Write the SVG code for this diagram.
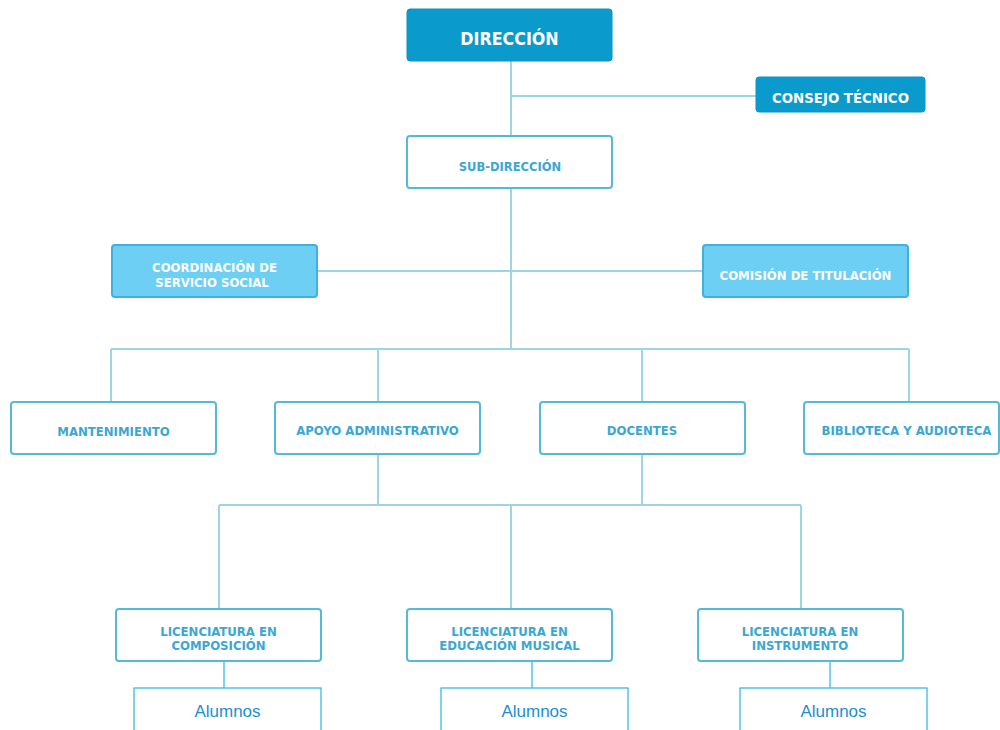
<svg xmlns="http://www.w3.org/2000/svg" width="1000" height="730" viewBox="0 0 1000 730">
<style>
.dark{fill:#0a9bcc;stroke:#0a93c4;stroke-width:1}
.light{fill:#6ccff3;stroke:#3fb2dc;stroke-width:2}
.white{fill:#ffffff;stroke:#55b9dc;stroke-width:2}
.alum{fill:#ffffff;stroke:#2ab3ea;stroke-width:1.2}
.t{font-family:"DejaVu Sans Condensed","DejaVu Sans",sans-serif;font-weight:bold;text-anchor:middle;font-size:13px}
.tw{fill:#ffffff}
.tb{fill:#3aa7d3}
.ta{font-family:"Liberation Sans",Arial,sans-serif;font-size:17px;fill:#1d8fd1;text-anchor:middle}
.c{stroke:#9dd5e5;stroke-width:2;fill:none}
.c2{stroke:#2ab3ea;stroke-width:1.2;fill:none}
</style>
<rect width="1000" height="730" fill="#ffffff"/>
<g id="connectors">
<path class="c" d="M511 61V136M511 96H756M511 188V349M317 271H703M111 349H909M111 349V402M378 349V402M642 349V402M909 349V402M378 454V505M642 454V505M219 505H801M219 505V609M511 505V609M801 505V609"/>
<path class="c2" d="M224 661V688M532 661V688M830 661V688"/>
</g>
<g id="direccion"><rect class="dark" x="407" y="9" width="205" height="52" rx="3"/><text class="t tw" x="509.5" y="45" style="font-size:17.7px">DIRECCIÓN</text></g>
<g id="consejo"><rect class="dark" x="756" y="77" width="169" height="35" rx="3"/><text class="t tw" x="840.5" y="103" style="font-size:14.8px">CONSEJO TÉCNICO</text></g>
<g id="subdireccion"><rect class="white" x="407" y="136" width="205" height="52" rx="3"/><text class="t tb" x="510" y="171" style="font-size:12.8px">SUB-DIRECCIÓN</text></g>
<g id="coordinacion"><rect class="light" x="112" y="245" width="205" height="52" rx="3"/><text class="t tw" x="214.5" y="272">COORDINACIÓN DE</text><text class="t tw" x="212" y="287">SERVICIO SOCIAL</text></g>
<g id="comision"><rect class="light" x="703" y="245" width="205" height="52" rx="3"/><text class="t tw" x="805.5" y="280">COMISIÓN DE TITULACIÓN</text></g>
<g id="mantenimiento"><rect class="white" x="11" y="402" width="205" height="52" rx="3"/><text class="t tb" x="113.5" y="436">MANTENIMIENTO</text></g>
<g id="apoyo"><rect class="white" x="275" y="402" width="205" height="52" rx="3"/><text class="t tb" x="377.5" y="435">APOYO ADMINISTRATIVO</text></g>
<g id="docentes"><rect class="white" x="540" y="402" width="205" height="52" rx="3"/><text class="t tb" x="642" y="435">DOCENTES</text></g>
<g id="biblioteca"><rect class="white" x="804" y="402" width="195" height="52" rx="3"/><text class="t tb" x="906.5" y="435">BIBLIOTECA Y AUDIOTECA</text></g>
<g id="lic-composicion"><rect class="white" x="116" y="609" width="205" height="52" rx="3"/><text class="t tb" x="218.5" y="636">LICENCIATURA EN</text><text class="t tb" x="218.5" y="650">COMPOSICIÓN</text></g>
<g id="lic-educacion"><rect class="white" x="407" y="609" width="205" height="52" rx="3"/><text class="t tb" x="509.5" y="636">LICENCIATURA EN</text><text class="t tb" x="509.5" y="650">EDUCACIÓN MUSICAL</text></g>
<g id="lic-instrumento"><rect class="white" x="698" y="609" width="205" height="52" rx="3"/><text class="t tb" x="800" y="636">LICENCIATURA EN</text><text class="t tb" x="800" y="650">INSTRUMENTO</text></g>
<g id="alumnos-1"><rect class="alum" x="134" y="688" width="187" height="50"/><text class="ta" x="227.5" y="717">Alumnos</text></g>
<g id="alumnos-2"><rect class="alum" x="441" y="688" width="187" height="50"/><text class="ta" x="534.5" y="717">Alumnos</text></g>
<g id="alumnos-3"><rect class="alum" x="740" y="688" width="187" height="50"/><text class="ta" x="833.5" y="717">Alumnos</text></g>
</svg>
